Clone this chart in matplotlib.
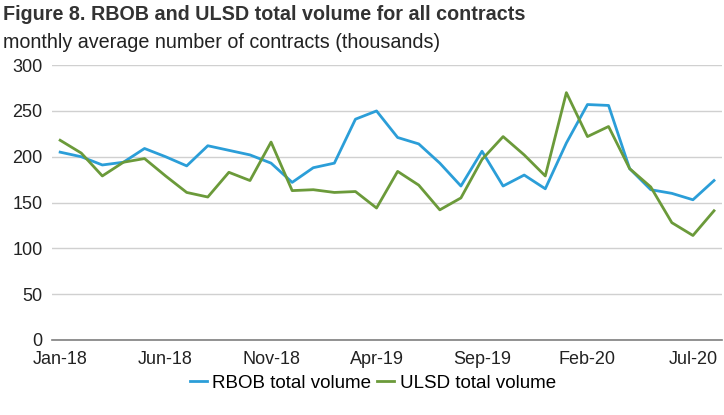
import matplotlib
matplotlib.use("Agg")
import matplotlib.pyplot as plt

# monthly, Jan-18 .. Aug-20 (thousands of contracts)
months = ["Jan-18", "Feb-18", "Mar-18", "Apr-18", "May-18", "Jun-18", "Jul-18", "Aug-18",
          "Sep-18", "Oct-18", "Nov-18", "Dec-18", "Jan-19", "Feb-19", "Mar-19", "Apr-19",
          "May-19", "Jun-19", "Jul-19", "Aug-19", "Sep-19", "Oct-19", "Nov-19", "Dec-19",
          "Jan-20", "Feb-20", "Mar-20", "Apr-20", "May-20", "Jun-20", "Jul-20", "Aug-20"]
rbob = [205, 200, 191, 194, 209, 200, 190, 212, 207, 202, 193, 172, 188, 193, 241, 250,
        221, 214, 193, 168, 206, 168, 180, 165, 215, 257, 256, 187, 164, 160, 153, 174]
ulsd = [218, 204, 179, 194, 198, 179, 161, 156, 183, 174, 216, 163, 164, 161, 162, 144,
        184, 169, 142, 155, 197, 222, 202, 179, 270, 222, 233, 187, 167, 128, 114, 141]
tick_every = 5

plt.rcParams["font.family"] = ["Liberation Sans", "DejaVu Sans"]

fig = plt.figure(figsize=(7.24, 4.15), dpi=100)
ax = fig.add_axes([0.072, 0.181, 0.925, 0.662])

x = list(range(len(months)))
ax.plot(x, rbob, color="#2b9ed8", linewidth=2.0, label="RBOB total volume")
ax.plot(x, ulsd, color="#6b9a3a", linewidth=2.0, label="ULSD total volume")

ax.set_ylim(0, 300)
ax.set_yticks(range(0, 301, 50))
ax.set_xlim(-0.38, len(months) - 0.63)
ax.set_xticks(x[::tick_every])
ax.set_xticklabels(months[::tick_every])
ax.tick_params(length=0, labelsize=13, colors="#222222")
ax.tick_params(axis="x", pad=8)
ax.tick_params(axis="y", pad=7)

ax.grid(axis="y", color="#d0d0d0", linewidth=1.0)
ax.set_axisbelow(True)
for side in ["top", "right", "left"]:
    ax.spines[side].set_visible(False)
ax.spines["bottom"].set_color("#7f7f7f")
ax.spines["bottom"].set_linewidth(1.2)

fig.text(0.004, 1 - 15 / 415, "Figure 8. RBOB and ULSD total volume for all contracts",
         fontsize=14.2, fontweight="bold", color="#333333", va="center")
fig.text(0.004, 1 - 43 / 415, "monthly average number of contracts (thousands)",
         fontsize=14.2, color="#222222", va="center")

fig.legend(loc="center", bbox_to_anchor=(0.515, 1 - 383 / 415), ncol=2, frameon=False,
           fontsize=13.5, handlelength=0.9, handletextpad=0.3, columnspacing=0.3)

fig.savefig("out.png", dpi=100, facecolor="white")
